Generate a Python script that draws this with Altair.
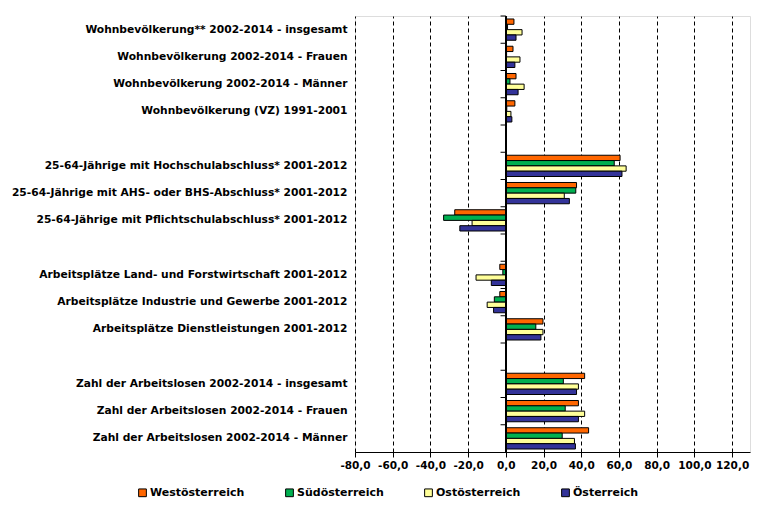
import altair as alt
import pandas as pd

categories = [
    "Wohnbevölkerung** 2002-2014 - insgesamt",
    "Wohnbevölkerung 2002-2014 - Frauen",
    "Wohnbevölkerung 2002-2014 - Männer",
    "Wohnbevölkerung (VZ) 1991-2001",
    " ",
    "25-64-Jährige mit Hochschulabschluss* 2001-2012",
    "25-64-Jährige mit AHS- oder BHS-Abschluss* 2001-2012",
    "25-64-Jährige mit Pflichtschulabschluss* 2001-2012",
    "  ",
    "Arbeitsplätze Land- und Forstwirtschaft 2001-2012",
    "Arbeitsplätze Industrie und Gewerbe 2001-2012",
    "Arbeitsplätze Dienstleistungen 2001-2012",
    "   ",
    "Zahl der Arbeitslosen 2002-2014 - insgesamt",
    "Zahl der Arbeitslosen 2002-2014 - Frauen",
    "Zahl der Arbeitslosen 2002-2014 - Männer",
]
series = ["Westösterreich", "Südösterreich", "Ostösterreich", "Österreich"]
colors = ["#FF6600", "#00B050", "#FFFF99", "#333399"]

# values per category (None = empty gap row)
west = [4.3, 3.8, 5.4, 4.8, None, 60.6, 37.5, -27.1, None, -3.2, -3.2, 19.7, None, 41.8, 38.5, 43.9]
sued = [0.9, 0.4, 2.2, 0.5, None, 57.5, 37.1, -33.0, None, -1.6, -6.1, 15.9, None, 30.5, 31.5, 29.9]
ost = [8.6, 7.5, 9.7, 2.7, None, 63.8, 31.0, -17.9, None, -15.8, -9.9, 19.7, None, 38.5, 41.8, 36.4]
oest = [5.4, 4.8, 6.5, 3.2, None, 61.6, 33.7, -24.4, None, -7.7, -6.5, 18.6, None, 37.5, 38.5, 36.9]

x_ticks = [-80, -60, -40, -20, 0, 20, 40, 60, 80, 100, 120]

rows = []
for s, vals in zip(series, [west, sued, ost, oest]):
    for c, v in zip(categories, vals):
        if v is not None:
            rows.append({"cat": c, "series": s, "value": v})
df = pd.DataFrame(rows)
cat_df = pd.DataFrame({"cat": categories})

FONT = "DejaVu Sans"
label_expr = "replace(replace(format(datum.value, '.1f'), '.', ','), '\u2212', '-')"

xscale = alt.Scale(domain=[-80, 129.5], nice=False, zero=False)
xaxis = alt.Axis(values=x_ticks, labelExpr=label_expr, grid=True,
                 gridColor="black", gridDash=[4, 3], gridWidth=1,
                 domainColor="black", tickColor="black", tickSize=5,
                 labelOverlap=False, labelFlush=False, title=None,
                 labelFont=FONT, labelFontWeight="bold", labelFontSize=10.5,
                 labelColor="black", labelPadding=3)

bars = alt.Chart(df).mark_bar(stroke="black", strokeWidth=1).encode(
    x=alt.X("value:Q", scale=xscale, title=None, axis=xaxis),
    y=alt.Y("cat:N", sort=categories, title=None,
            scale=alt.Scale(domain=categories, paddingInner=0.22, paddingOuter=0.11),
            axis=alt.Axis(ticks=False, domain=False, labelPadding=8,
                          labelFont=FONT, labelFontWeight="bold", labelFontSize=10.7,
                          labelColor="black", labelLimit=400)),
    yOffset=alt.YOffset("series:N", sort=series, scale=alt.Scale(domain=series)),
    color=alt.Color("series:N", sort=series,
                    scale=alt.Scale(domain=series, range=colors),
                    legend=alt.Legend(title=None, orient="none", direction="horizontal",
                                      legendX=-218, legendY=471, columns=4,
                                      columnPadding=38, symbolType="square",
                                      symbolSize=60, symbolStrokeColor="black",
                                      symbolStrokeWidth=1, labelFont=FONT,
                                      labelFontWeight="bold", labelFontSize=11,
                                      labelColor="black", labelOffset=2)),
)

zero_line = alt.Chart(cat_df).mark_rule(color="black", strokeWidth=1.5).encode(
    x=alt.XDatum(0, scale=xscale, axis=xaxis, title=None)
)

ticks = alt.Chart(cat_df).mark_rule(color="black", strokeWidth=1).encode(
    x=alt.XDatum(-2.8, scale=xscale, axis=xaxis, title=None),
    x2=alt.X2Datum(0),
    y=alt.Y("cat:N", sort=categories, bandPosition=0,
            scale=alt.Scale(domain=categories, paddingInner=0, paddingOuter=0),
            axis=None),
)

chart = alt.layer(bars, zero_line, ticks).resolve_scale(y="independent").properties(
    width=395, height=436,
    autosize=alt.AutoSizeParams(type="none"),
    padding={"left": 347, "top": 8, "right": 19, "bottom": 60},
).configure_view(stroke="#808080", strokeWidth=1).configure(background="white")

chart.save("out.html", embed_options={"renderer": "svg", "actions": False})
